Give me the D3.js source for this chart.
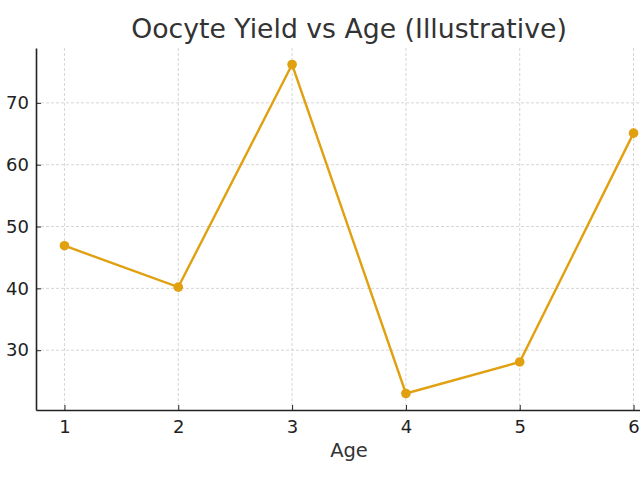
<!DOCTYPE html>
<html>
<head>
<meta charset="utf-8">
<script src="https://cdn.jsdelivr.net/npm/d3@7"></script>
<style>
  body { margin: 0; background: #fff; }
  svg { font-family: "DejaVu Sans", sans-serif; }
</style>
</head>
<body>
<svg id="chart" width="640" height="480"></svg>
<script>
// data
const ages = [1, 2, 3, 4, 5, 6];
const yields = [46.9, 40.2, 76.2, 23.0, 28.1, 65.1];
const xTicks = [1, 2, 3, 4, 5, 6];
const yTicks = [30, 40, 50, 60, 70];

const svg = d3.select('#chart');
const margin = {top: 48, right: -22, bottom: 70, left: 36};
const width = +svg.attr('width');
const height = +svg.attr('height');
const innerWidth = width - margin.left - margin.right;
const innerHeight = height - margin.top - margin.bottom;
const lineColor = '#e0a010';

const g = svg.append('g')
    .attr('transform', `translate(${margin.left}, ${margin.top})`);

const x = d3.scaleLinear().domain([0.75, 6.25]).range([0, innerWidth]);
const y = d3.scaleLinear().domain([20.33, 78.87]).range([innerHeight, 0]);

// grid
g.append('g').selectAll('line').data(xTicks).enter().append('line')
    .attr('x1', d => x(d)).attr('x2', d => x(d))
    .attr('y1', 0).attr('y2', innerHeight)
    .attr('stroke', '#cccccc').attr('stroke-width', 0.8)
    .attr('stroke-dasharray', '3,2');
g.append('g').selectAll('line').data(yTicks).enter().append('line')
    .attr('x1', 0).attr('x2', innerWidth)
    .attr('y1', d => y(d)).attr('y2', d => y(d))
    .attr('stroke', '#cccccc').attr('stroke-width', 0.8)
    .attr('stroke-dasharray', '3,2');

// axes
const xAxis = g.append('g')
    .attr('transform', `translate(0, ${innerHeight})`)
    .call(d3.axisBottom(x).tickValues(xTicks).tickFormat(d3.format('d'))
        .tickSizeInner(-5).tickSizeOuter(0).tickPadding(10));
const yAxis = g.append('g')
    .call(d3.axisLeft(y).tickValues(yTicks).tickFormat(d3.format('d'))
        .tickSizeInner(-5).tickSizeOuter(0).tickPadding(7));
[xAxis, yAxis].forEach(a => {
    a.select('.domain').attr('stroke', '#222').attr('stroke-width', 1.6);
    a.selectAll('.tick line').attr('stroke', '#222').attr('stroke-width', 1);
    a.selectAll('.tick text').attr('fill', '#222').style('font-size', '18px')
        .style('font-family', '"DejaVu Sans", sans-serif');
});

// line + points
const line = d3.line().x((d, i) => x(ages[i])).y(d => y(d));
g.append('path')
    .datum(yields)
    .attr('d', line)
    .attr('fill', 'none')
    .attr('stroke', lineColor)
    .attr('stroke-width', 2.4);
g.selectAll('circle.pt').data(yields).enter().append('circle')
    .attr('class', 'pt')
    .attr('cx', (d, i) => x(ages[i]))
    .attr('cy', d => y(d))
    .attr('r', 4.8)
    .attr('fill', lineColor);

// labels
svg.append('text')
    .attr('x', 349).attr('y', 38)
    .attr('text-anchor', 'middle')
    .attr('fill', '#333')
    .style('font-size', '26.7px')
    .text('Oocyte Yield vs Age (Illustrative)');
svg.append('text')
    .attr('x', 349).attr('y', 457)
    .attr('text-anchor', 'middle')
    .attr('fill', '#333')
    .style('font-size', '19.5px')
    .text('Age');
</script>
</body>
</html>
